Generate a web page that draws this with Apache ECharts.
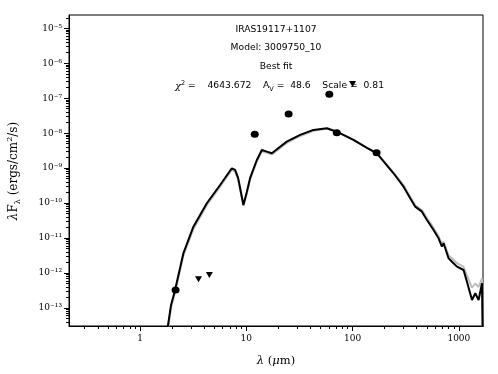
<!DOCTYPE html>
<html>
<head>
<meta charset="utf-8">
<script src="https://cdn.jsdelivr.net/npm/echarts@6/dist/echarts.min.js"></script>
<style>
  html, body { margin: 0; padding: 0; background: #fff; }
  #sed { width: 498px; height: 374px; }
</style>
</head>
<body>
<div id="sed"></div>
<script>
// model wavelengths (micron) and fluxes lambda*F_lambda (ergs/cm2/s)
var modelWave = [1.777, 1.958, 2.136, 2.557, 3.177, 4.248, 5.667, 7.303, 7.845, 8.374,
  9.39, 10.11, 10.86, 12.56, 14.0, 15.6, 17.4, 19.4, 24.0, 32.1,
  42.8, 57.3, 71.2, 102, 136.4, 169.3, 242.7, 301.6, 348.6, 388.6,
  449.3, 500.8, 578, 644, 693, 718, 800, 861, 960, 1107,
  1192, 1329, 1427, 1533, 1651, 1679];
var bestFit = [1.70e-14, 1.22e-13, 3.27e-13, 3.67e-12, 2.12e-11, 9.89e-11, 3.30e-10, 9.91e-10, 8.87e-10, 5.23e-10,
  8.83e-11, 2.08e-10, 5.24e-10, 1.71e-9, 3.31e-9, 2.96e-9, 2.66e-9, 3.47e-9, 5.72e-9, 8.91e-9,
  1.24e-8, 1.38e-8, 1.10e-8, 6.40e-9, 3.78e-9, 2.63e-9, 7.13e-10, 2.95e-10, 1.37e-10, 7.91e-11,
  5.69e-11, 3.29e-11, 1.70e-11, 9.86e-12, 5.68e-12, 7.10e-12, 2.64e-12, 2.11e-12, 1.52e-12, 1.22e-12,
  5.65e-13, 1.69e-13, 2.63e-13, 1.69e-13, 5.09e-13, 1.26e-14];
var otherFit = [1.41e-14, 1.02e-13, 2.75e-13, 3.16e-12, 1.82e-11, 8.71e-11, 2.95e-10, 8.91e-10, 7.94e-10, 4.79e-10,
  8.32e-11, 1.91e-10, 4.79e-10, 1.55e-9, 3.02e-9, 2.75e-9, 2.45e-9, 3.16e-9, 5.25e-9, 8.32e-9,
  1.17e-8, 1.33e-8, 1.07e-8, 6.31e-9, 3.80e-9, 2.69e-9, 7.59e-10, 3.24e-10, 1.51e-10, 8.71e-11,
  6.31e-11, 3.72e-11, 1.95e-11, 1.12e-11, 6.76e-12, 7.94e-12, 3.16e-12, 2.63e-12, 1.91e-12, 1.51e-12,
  8.51e-13, 3.80e-13, 5.01e-13, 3.98e-13, 7.08e-13, 1.26e-14];

// photometry
var detWave = [2.16, 12, 25, 60.4, 71, 168];
var detFlux = [3.27e-13, 9.3e-9, 3.54e-8, 1.29e-7, 1.03e-8, 2.75e-9];
var limWave = [3.55, 4.49, 100];
var limFlux = [6.6e-13, 8.8e-13, 2.55e-7];

var xTicks = [1, 10, 100, 1000];
var yTicks = [1e-13, 1e-12, 1e-11, 1e-10, 1e-9, 1e-8, 1e-7, 1e-6, 1e-5];
var xRange = [0.2145, 1687];
var yRange = [3.05e-14, 2.4e-5];

var log = Math.log10;
function pairs(xs, ys) {
  return xs.map(function (x, i) { return [log(x), log(ys[i])]; });
}
function minorTicks(lo, hi) {
  var out = [];
  for (var n = -15; n <= 4; n++) {
    for (var k = 2; k <= 9; k++) {
      var v = k * Math.pow(10, n);
      if (v > lo && v < hi) out.push(log(v));
    }
  }
  return out;
}
var sup = { '-': '\u207B', '0': '\u2070', '1': '\u00B9', '2': '\u00B2', '3': '\u00B3', '4': '\u2074',
  '5': '\u2075', '6': '\u2076', '7': '\u2077', '8': '\u2078', '9': '\u2079' };
function powLabel(v) {
  var e = String(Math.round(v));
  return '10' + e.split('').map(function (c) { return sup[c]; }).join('');
}

var serif = 'DejaVu Serif';
var sans = 'DejaVu Sans';
var tickLine = { color: '#000', width: 1 };

// ticks start at the axis line centre, so lengths are a bit longer than they look
function axisPair(range, majors, fmt, margin) {
  return [{
    type: 'value', min: log(range[0]), max: log(range[1]),
    axisLine: { show: true, onZero: false, lineStyle: { color: '#000', width: 1 } },
    axisTick: { show: true, customValues: majors.map(log), length: 5, lineStyle: tickLine },
    axisLabel: { customValues: majors.map(log), formatter: fmt, margin: margin,
      fontFamily: serif, fontSize: 9, color: '#000' },
    splitLine: { show: false }
  }, {
    type: 'value', min: log(range[0]), max: log(range[1]),
    axisLine: { show: false, onZero: false },
    axisTick: { show: true, customValues: minorTicks(range[0], range[1]), length: 3, lineStyle: tickLine },
    axisLabel: { show: false },
    splitLine: { show: false }
  }];
}

var xAxes = axisPair(xRange, xTicks, function (v) { return String(Math.round(Math.pow(10, v))); }, 8);
xAxes.forEach(function (a) { a.position = 'bottom'; });
var yAxes = axisPair(yRange, yTicks, powLabel, 7);
yAxes.forEach(function (a) { a.position = 'left'; });

var chart = echarts.init(document.getElementById('sed'));
chart.setOption({
  animation: false,
  backgroundColor: '#fff',
  grid: { left: 69, right: 15, top: 15, bottom: 48, show: true, borderColor: '#000', borderWidth: 1 },
  xAxis: xAxes,
  yAxis: yAxes,
  series: [
    { type: 'line', data: pairs(modelWave, otherFit), showSymbol: false, z: 2,
      lineStyle: { color: '#bdbdbd', width: 2 } },
    { type: 'line', data: pairs(modelWave, bestFit), showSymbol: false, z: 3,
      lineStyle: { color: '#000', width: 2 } },
    { type: 'scatter', data: pairs(detWave, detFlux), symbol: 'circle', symbolSize: [8, 7], z: 4,
      itemStyle: { color: '#000', opacity: 1 } },
    { type: 'scatter', data: pairs(limWave, limFlux), symbol: 'triangle', symbolRotate: 180,
      symbolSize: [7, 6], z: 4, itemStyle: { color: '#000', opacity: 1 } }
  ],
  graphic: [
    { type: 'text', x: 276, y: 30, style: { text: 'IRAS19117+1107', font: '9.2px ' + sans,
      textAlign: 'center', textVerticalAlign: 'middle', fill: '#000' } },
    { type: 'text', x: 276, y: 48, style: { text: 'Model: 3009750_10', font: '9.2px ' + sans,
      textAlign: 'center', textVerticalAlign: 'middle', fill: '#000' } },
    { type: 'text', x: 276, y: 66.5, style: { text: 'Best fit', font: '9.2px ' + sans,
      textAlign: 'center', textVerticalAlign: 'middle', fill: '#000' } },
    { type: 'text', x: 175, y: 86, z: 1, style: {
      text: '{i|\u03C7}{sp|2}{n| =    4643.672    A}{sb|V}{n| =  48.6    Scale =  0.81}',
      textAlign: 'left', textVerticalAlign: 'middle', fill: '#000',
      rich: {
        n: { fontFamily: sans, fontSize: 9.2, lineHeight: 13 },
        i: { fontFamily: serif, fontStyle: 'italic', fontSize: 10, lineHeight: 13 },
        sp: { fontFamily: sans, fontSize: 6.5, lineHeight: 13, verticalAlign: 'top' },
        sb: { fontFamily: sans, fontSize: 6.5, lineHeight: 13, verticalAlign: 'bottom' }
      } } },
    // axis titles
    { type: 'text', x: 14, y: 171, rotation: Math.PI / 2, style: {
      text: '{i|\u03BB}{n|F}{sb|\u03BB}{n| (ergs/cm}{sp|2}{n|/s)}',
      textAlign: 'center', textVerticalAlign: 'middle', fill: '#000',
      rich: {
        n: { fontFamily: serif, fontSize: 12, lineHeight: 16 },
        i: { fontFamily: serif, fontStyle: 'italic', fontSize: 12, lineHeight: 16 },
        sp: { fontFamily: serif, fontSize: 8, lineHeight: 16, verticalAlign: 'top' },
        sb: { fontFamily: serif, fontSize: 8, lineHeight: 16, verticalAlign: 'bottom' }
      } } },
    { type: 'text', x: 276, y: 361, style: {
      text: '{i|\u03BB}{n| (}{i|\u03BC}{n|m)}',
      textAlign: 'center', textVerticalAlign: 'middle', fill: '#000',
      rich: {
        n: { fontFamily: serif, fontSize: 11.5 },
        i: { fontFamily: serif, fontStyle: 'italic', fontSize: 11.5 }
      } } }
  ]
});
</script>
</body>
</html>
